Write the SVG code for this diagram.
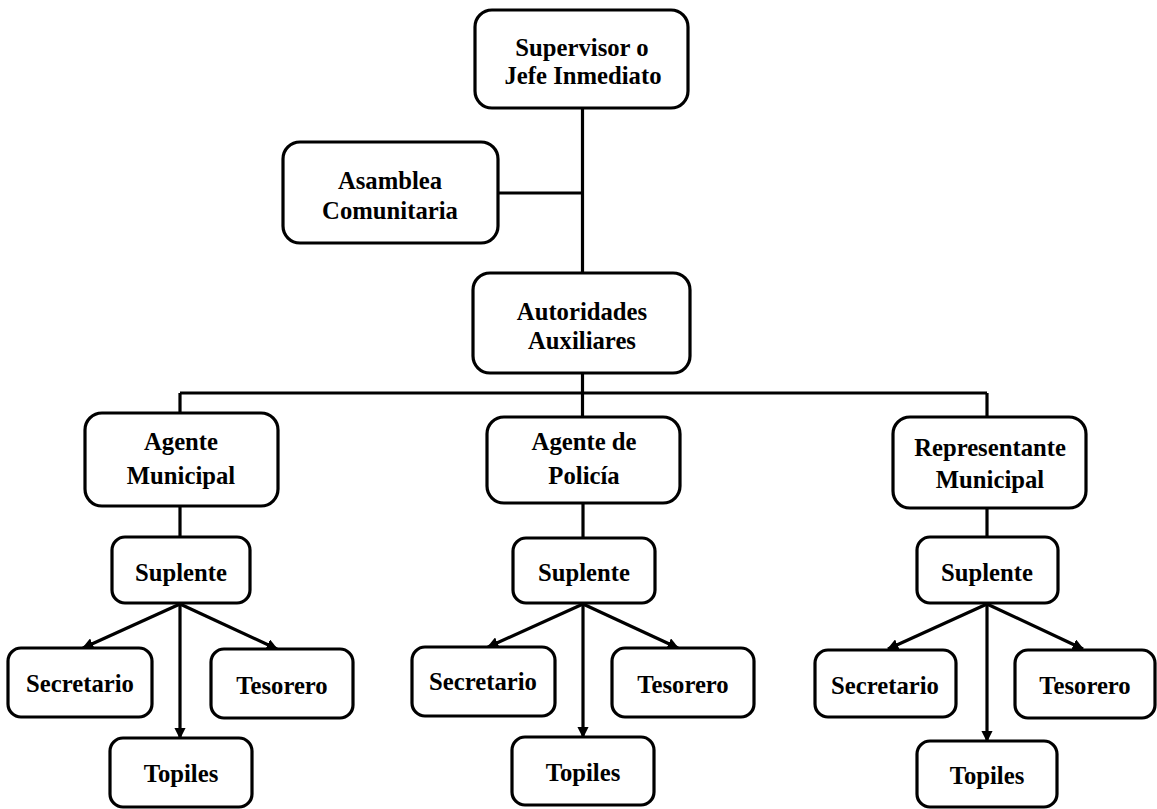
<svg xmlns="http://www.w3.org/2000/svg" width="1157" height="809" viewBox="0 0 1157 809">
<style>
.box{fill:#fff;stroke:#000;stroke-width:3.2}
.t{font-family:"Liberation Serif","Times New Roman",serif;font-weight:bold;font-size:26px;text-anchor:middle;fill:#000}
.ln{fill:none;stroke:#000;stroke-width:3.2}
.ar{fill:none;stroke:#000;stroke-width:3.2;marker-end:url(#ah)}
</style>
<defs>
<marker id="ah" viewBox="0 0 10 10" refX="9" refY="5" markerWidth="3.6" markerHeight="3.6" orient="auto" markerUnits="strokeWidth">
<path d="M0,0 L10,5 L0,10 z" fill="#000"/>
</marker>
</defs>
<g id="connectors">
<path class="ln" d="M582.5,108 V273"/>
<path class="ln" d="M498,193 H582.5"/>
<path class="ln" d="M582.5,373 V417"/>
<path class="ln" d="M180,393 H987"/>
<path class="ln" d="M180,393 V413"/>
<path class="ln" d="M987,393 V417"/>
<path class="ln" d="M180,506 V537"/>
<path class="ln" d="M583,503 V538"/>
<path class="ln" d="M987,508 V537"/>
<path class="ar" d="M180,604 L83,648"/>
<path class="ar" d="M180,604 L277,649"/>
<path class="ar" d="M180,604 V738"/>
<path class="ar" d="M583,604 L488,647"/>
<path class="ar" d="M583,604 L678,648"/>
<path class="ar" d="M583,604 V737"/>
<path class="ar" d="M987,604 L888,649"/>
<path class="ar" d="M987,604 L1083,649"/>
<path class="ar" d="M987,604 V741"/>
</g>
<g id="supervisor"><rect class="box" x="475" y="10" width="213" height="98" rx="17"/><text class="t" transform="translate(582,56) scale(0.95,1)">Supervisor o</text><text class="t" transform="translate(583,84) scale(0.95,1)">Jefe Inmediato</text></g>
<g id="asamblea"><rect class="box" x="283" y="142" width="215" height="101" rx="17"/><text class="t" transform="translate(390,189) scale(0.95,1)">Asamblea</text><text class="t" transform="translate(390,219) scale(0.95,1)">Comunitaria</text></g>
<g id="autoridades"><rect class="box" x="473" y="273" width="217" height="100" rx="17"/><text class="t" transform="translate(582,320) scale(0.95,1)">Autoridades</text><text class="t" transform="translate(582,349) scale(0.95,1)">Auxiliares</text></g>
<g id="agente-municipal"><rect class="box" x="85" y="413" width="193" height="93" rx="17"/><text class="t" transform="translate(181,450) scale(0.95,1)">Agente</text><text class="t" transform="translate(181,484) scale(0.95,1)">Municipal</text></g>
<g id="agente-policia"><rect class="box" x="487" y="417" width="193" height="86" rx="17"/><text class="t" transform="translate(584,450) scale(0.95,1)">Agente de</text><text class="t" transform="translate(584,484) scale(0.95,1)">Policía</text></g>
<g id="representante"><rect class="box" x="893" y="417" width="193" height="91" rx="17"/><text class="t" transform="translate(990,456) scale(0.95,1)">Representante</text><text class="t" transform="translate(990,488) scale(0.95,1)">Municipal</text></g>
<g id="suplente-1"><rect class="box" x="112" y="537" width="138" height="66" rx="13"/><text class="t" transform="translate(181,581) scale(0.95,1)">Suplente</text></g>
<g id="suplente-2"><rect class="box" x="513" y="538" width="142" height="65" rx="13"/><text class="t" transform="translate(584,581) scale(0.95,1)">Suplente</text></g>
<g id="suplente-3"><rect class="box" x="917" y="537" width="141" height="66" rx="13"/><text class="t" transform="translate(987,581) scale(0.95,1)">Suplente</text></g>
<g id="secretario-1"><rect class="box" x="8" y="648" width="144" height="69" rx="13"/><text class="t" transform="translate(80,692) scale(0.95,1)">Secretario</text></g>
<g id="tesorero-1"><rect class="box" x="211" y="649" width="142" height="69" rx="13"/><text class="t" transform="translate(282,694) scale(0.95,1)">Tesorero</text></g>
<g id="topiles-1"><rect class="box" x="110" y="738" width="142" height="69" rx="13"/><text class="t" transform="translate(181,782) scale(0.95,1)">Topiles</text></g>
<g id="secretario-2"><rect class="box" x="412" y="647" width="143" height="69" rx="13"/><text class="t" transform="translate(483,690) scale(0.95,1)">Secretario</text></g>
<g id="tesorero-2"><rect class="box" x="612" y="648" width="142" height="69" rx="13"/><text class="t" transform="translate(683,693) scale(0.95,1)">Tesorero</text></g>
<g id="topiles-2"><rect class="box" x="512" y="737" width="142" height="68" rx="13"/><text class="t" transform="translate(583,781) scale(0.95,1)">Topiles</text></g>
<g id="secretario-3"><rect class="box" x="815" y="650" width="141" height="67" rx="13"/><text class="t" transform="translate(885,694) scale(0.95,1)">Secretario</text></g>
<g id="tesorero-3"><rect class="box" x="1015" y="650" width="140" height="68" rx="13"/><text class="t" transform="translate(1085,694) scale(0.95,1)">Tesorero</text></g>
<g id="topiles-3"><rect class="box" x="917" y="741" width="140" height="66" rx="13"/><text class="t" transform="translate(987,784) scale(0.95,1)">Topiles</text></g>
</svg>
